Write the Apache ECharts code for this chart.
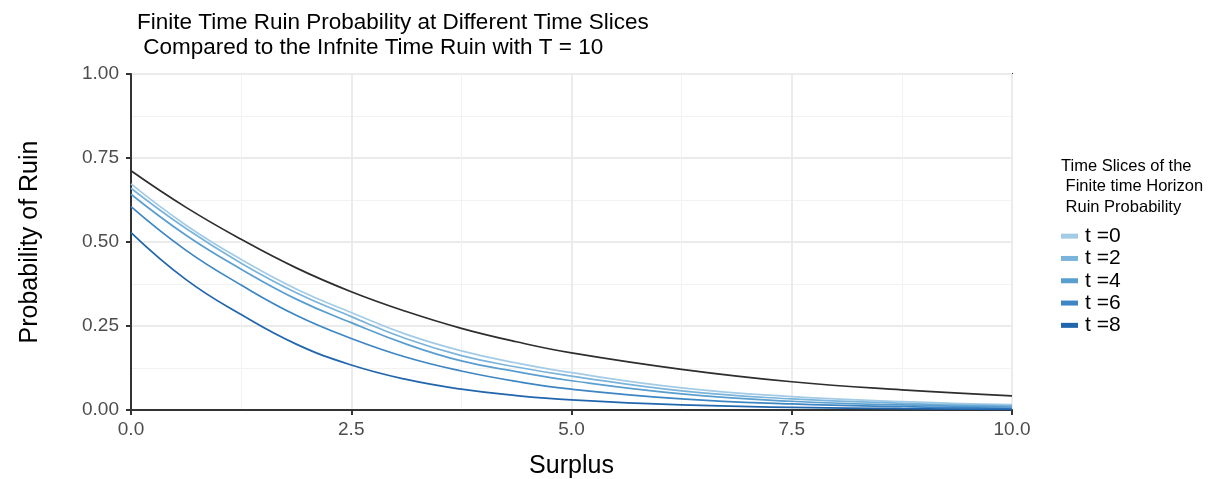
<!DOCTYPE html>
<html>
<head>
<meta charset="utf-8">
<script src="https://cdn.jsdelivr.net/npm/echarts@6/dist/echarts.min.js"></script>
<style>
  html, body { margin: 0; padding: 0; background: #fff; }
  #chart { width: 1215px; height: 479px; }
</style>
</head>
<body>
<div id="chart"></div>
<script>
// Surplus grid on which the ruin probabilities are shown
const surplus = [0, 0.625, 1.25, 1.875, 2.5, 3.125, 3.75, 4.375, 5, 6.25, 7.5, 8.75, 10];

// Infinite time ruin probability (T = 10 reference curve)
const infiniteRuin = [0.712, 0.603, 0.508, 0.423, 0.352, 0.293, 0.243, 0.203, 0.170, 0.121, 0.084, 0.060, 0.042];

// Finite time ruin probability at each time slice
const ruinT0 = [0.673, 0.550, 0.448, 0.360, 0.290, 0.225, 0.176, 0.140, 0.111, 0.066, 0.040, 0.025, 0.016];
const ruinT2 = [0.660, 0.540, 0.437, 0.349, 0.278, 0.212, 0.162, 0.128, 0.101, 0.057, 0.033, 0.020, 0.012];
const ruinT4 = [0.642, 0.520, 0.419, 0.330, 0.260, 0.196, 0.146, 0.114, 0.087, 0.048, 0.026, 0.015, 0.009];
const ruinT6 = [0.605, 0.475, 0.372, 0.282, 0.213, 0.157, 0.116, 0.085, 0.062, 0.033, 0.018, 0.010, 0.005];
const ruinT8 = [0.528, 0.388, 0.284, 0.196, 0.134, 0.091, 0.062, 0.043, 0.030, 0.015, 0.008, 0.004, 0.002];

const sliceNames = ['t =0', 't =2', 't =4', 't =6', 't =8'];
const sliceValues = [ruinT0, ruinT2, ruinT4, ruinT6, ruinT8];
const sliceColors = ['#a3cbe5', '#7ab4db', '#5a9ed0', '#3d86c3', '#2166ac'];

const xTicks = { min: 0, max: 10, interval: 2.5 };
const yTicks = { min: 0, max: 1, interval: 0.25 };

const pairs = vals => surplus.map((x, i) => [x, vals[i]]);

const series = [{
  name: 'Infinite',
  type: 'line',
  data: pairs(infiniteRuin),
  smooth: 0.45,
  showSymbol: false,
  lineStyle: { color: '#2e2e2e', width: 1.7 },
  itemStyle: { color: '#2e2e2e' },
  z: 3
}].concat(sliceNames.map((name, k) => ({
  name,
  type: 'line',
  data: pairs(sliceValues[k]),
  smooth: 0.45,
  showSymbol: false,
  lineStyle: { color: sliceColors[k], width: 1.7 },
  itemStyle: { color: sliceColors[k] },
  z: 2
})));

const font = 'Liberation Sans, Arial, sans-serif';

const chart = echarts.init(document.getElementById('chart'), null, { renderer: 'canvas' });
chart.setOption({
  animation: false,
  backgroundColor: '#ffffff',
  textStyle: { fontFamily: font },
  title: [{
    text: 'Finite Time Ruin Probability at Different Time Slices\n Compared to the Infnite Time Ruin with T = 10',
    left: 132,
    top: 5,
    textStyle: { fontFamily: font, fontSize: 22.5, fontWeight: 'normal', color: '#000', lineHeight: 25 }
  }, {
    text: 'Time Slices of the\n Finite time Horizon\n Ruin Probability',
    left: 1056,
    top: 151,
    textStyle: { fontFamily: font, fontSize: 16.5, fontWeight: 'normal', color: '#000', lineHeight: 20.5 }
  }],
  legend: {
    data: sliceNames,
    orient: 'vertical',
    left: 1056,
    top: 220,
    icon: 'rect',
    itemWidth: 17,
    itemHeight: 5,
    itemGap: 0,
    textStyle: { fontFamily: font, fontSize: 21, color: '#000', lineHeight: 22.3, padding: [0, 0, 0, 2] }
  },
  grid: {
    left: 131,
    right: 203,
    top: 74,
    bottom: 69,
    outerBoundsMode: 'none',
    containLabel: false,
    show: true,
    borderColor: '#333333',
    borderWidth: 2,
    backgroundColor: '#ffffff'
  },
  xAxis: {
    type: 'value',
    min: xTicks.min,
    max: xTicks.max,
    interval: xTicks.interval,
    name: 'Surplus',
    nameLocation: 'middle',
    nameGap: 44,
    nameTextStyle: { fontFamily: font, fontSize: 25, color: '#000' },
    axisLine: { show: true, onZero: false, lineStyle: { color: '#333333', width: 2 } },
    axisTick: { show: true, length: 5, lineStyle: { color: '#333333', width: 2 } },
    axisLabel: {
      fontFamily: font, fontSize: 19, color: '#4d4d4d', margin: 10,
      formatter: v => v.toFixed(1)
    },
    splitLine: { show: true, lineStyle: { color: '#ebebeb', width: 2 } },
    minorTick: { show: false, splitNumber: 2 },
    minorSplitLine: { show: true, lineStyle: { color: '#f2f2f2', width: 1 } }
  },
  yAxis: {
    type: 'value',
    min: yTicks.min,
    max: yTicks.max,
    interval: yTicks.interval,
    name: 'Probability of Ruin',
    nameLocation: 'middle',
    nameGap: 88,
    nameRotate: 90,
    nameTextStyle: { fontFamily: font, fontSize: 25, color: '#000' },
    axisLine: { show: true, onZero: false, lineStyle: { color: '#333333', width: 2 } },
    axisTick: { show: true, length: 5, lineStyle: { color: '#333333', width: 2 } },
    axisLabel: {
      fontFamily: font, fontSize: 19, color: '#4d4d4d', margin: 12,
      formatter: v => v.toFixed(2)
    },
    splitLine: { show: true, lineStyle: { color: '#ebebeb', width: 2 } },
    minorTick: { show: false, splitNumber: 2 },
    minorSplitLine: { show: true, lineStyle: { color: '#f2f2f2', width: 1 } }
  },
  series
});
</script>
</body>
</html>
